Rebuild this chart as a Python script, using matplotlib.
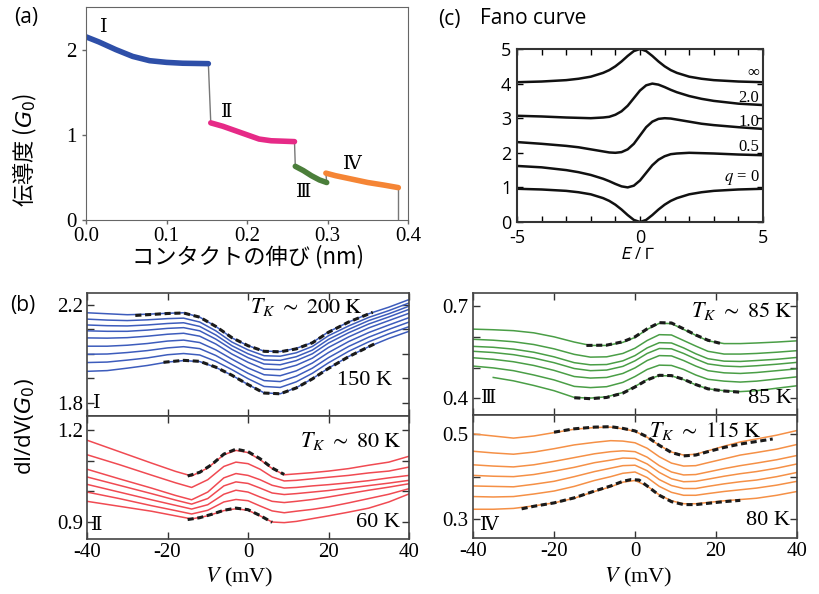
import numpy as np
import matplotlib
matplotlib.use('Agg')
import matplotlib.pyplot as plt

plt.rcParams['font.family'] = ['Liberation Serif', 'DejaVu Serif']
plt.rcParams['axes.unicode_minus'] = False
plt.rcParams['mathtext.fontset'] = 'stix'

# ---------- (a) コンダクタンストレース ----------
seg1_x = [0.0, 0.016, 0.037, 0.058, 0.079, 0.100, 0.120, 0.152]
seg1_y = [2.15, 2.09, 2.00, 1.92, 1.87, 1.85, 1.84, 1.835]
seg2_x = [0.155, 0.170, 0.185, 0.200, 0.215, 0.230, 0.245, 0.259]
seg2_y = [1.14, 1.10, 1.05, 1.00, 0.95, 0.93, 0.925, 0.92]
seg3_x = [0.260, 0.270, 0.280, 0.290, 0.299]
seg3_y = [0.63, 0.58, 0.52, 0.47, 0.44]
seg4_x = [0.298, 0.310, 0.330, 0.350, 0.370, 0.388]
seg4_y = [0.55, 0.52, 0.48, 0.44, 0.41, 0.38]
seg_colors = ['#2e4fa8', '#e62a87', '#4b7e3a', '#f58535']
seg_names = ['Ⅰ', 'Ⅱ', 'Ⅲ', 'Ⅳ']

# ---------- (c) Fano curve ----------
fano_e = [-5, -4, -3, -2.5, -2, -1.5, -1.25, -1, -0.75, -0.5, -0.25, 0,
          0.25, 0.5, 0.75, 1, 1.25, 1.5, 2, 2.5, 3, 4, 5]
fano_q0 = [0.96, 0.94, 0.90, 0.86, 0.80, 0.69, 0.61, 0.50, 0.36, 0.20, 0.06, 0.00,
           0.06, 0.20, 0.36, 0.50, 0.61, 0.69, 0.80, 0.86, 0.90, 0.94, 0.96]
fano_q05 = [1.62, 1.58, 1.50, 1.44, 1.36, 1.25, 1.18, 1.10, 1.03, 1.00, 1.05, 1.20,
            1.42, 1.64, 1.80, 1.90, 1.96, 1.98, 2.00, 1.99, 1.98, 1.95, 1.93]
fano_q1 = [2.31, 2.26, 2.20, 2.16, 2.10, 2.04, 2.01, 2.00, 2.02, 2.10, 2.26, 2.50,
           2.74, 2.90, 2.98, 3.00, 2.99, 2.96, 2.90, 2.84, 2.80, 2.74, 2.69]
fano_q2 = [3.07, 3.05, 3.02, 3.01, 3.00, 3.02, 3.04, 3.10, 3.20, 3.36, 3.58, 3.80,
           3.95, 4.00, 3.97, 3.90, 3.82, 3.75, 3.64, 3.56, 3.50, 3.42, 3.38]
fano_qinf = [4.04, 4.06, 4.10, 4.14, 4.20, 4.31, 4.39, 4.50, 4.64, 4.80, 4.94, 5.00,
             4.94, 4.80, 4.64, 4.50, 4.39, 4.31, 4.20, 4.14, 4.10, 4.06, 4.04]
fano_labels = ['$q$ = 0', '0.5', '1.0', '2.0', '∞']
fano_label_y = [1.29, 2.16, 2.90, 3.58, 4.32]

# ---------- (b) I ----------
v_I = [-40, -35, -30, -25, -20, -16, -12, -8, -4, 0, 4, 8, 12, 16, 20, 25, 30, 35, 40]
blue_curves = [
    [2.168, 2.164, 2.160, 2.162, 2.166, 2.168, 2.150, 2.112, 2.065, 2.033, 2.011, 2.009, 2.022, 2.046, 2.090, 2.130, 2.164, 2.191, 2.222],
    [2.142, 2.138, 2.136, 2.139, 2.144, 2.146, 2.130, 2.094, 2.048, 2.016, 1.992, 1.990, 2.004, 2.030, 2.074, 2.114, 2.149, 2.177, 2.208],
    [2.118, 2.115, 2.114, 2.118, 2.124, 2.127, 2.112, 2.077, 2.033, 2.000, 1.975, 1.973, 1.988, 2.015, 2.059, 2.100, 2.136, 2.164, 2.195],
    [2.094, 2.092, 2.092, 2.097, 2.104, 2.107, 2.094, 2.060, 2.018, 1.984, 1.958, 1.955, 1.972, 2.000, 2.044, 2.086, 2.122, 2.151, 2.182],
    [2.065, 2.064, 2.066, 2.072, 2.080, 2.084, 2.072, 2.040, 1.999, 1.965, 1.937, 1.935, 1.953, 1.982, 2.026, 2.069, 2.106, 2.136, 2.166],
    [2.031, 2.031, 2.035, 2.042, 2.052, 2.056, 2.046, 2.016, 1.978, 1.942, 1.914, 1.910, 1.930, 1.962, 2.005, 2.050, 2.087, 2.118, 2.148],
    [1.998, 1.999, 2.005, 2.013, 2.024, 2.029, 2.021, 1.993, 1.956, 1.920, 1.890, 1.886, 1.908, 1.941, 1.984, 2.030, 2.068, 2.100, 2.130],
    [1.964, 1.966, 1.974, 1.983, 1.996, 2.001, 1.995, 1.969, 1.935, 1.898, 1.866, 1.862, 1.885, 1.920, 1.963, 2.010, 2.049, 2.082, 2.111],
    [1.928, 1.931, 1.941, 1.952, 1.966, 1.972, 1.968, 1.944, 1.912, 1.874, 1.840, 1.836, 1.861, 1.898, 1.941, 1.989, 2.029, 2.063, 2.092],
]
fitI_top_v = [-28, -25, -20, -16, -12, -8, -4, 0, 4, 8, 12, 16, 20, 25, 31]
fitI_top = [2.157, 2.160, 2.165, 2.167, 2.150, 2.112, 2.066, 2.033, 2.010, 2.008, 2.020, 2.045, 2.088, 2.130, 2.170]
fitI_bot_v = [-21, -16, -12, -8, -4, 0, 4, 8, 12, 16, 20, 25, 30, 32]
fitI_bot = [1.965, 1.973, 1.969, 1.945, 1.912, 1.874, 1.839, 1.836, 1.860, 1.897, 1.940, 1.988, 2.029, 2.045]

# ---------- (b) II ----------
v_II = [-40, -32, -24, -18, -14, -10, -6, -3, 0, 3, 6, 9, 12, 16, 20, 25, 30, 35, 40]
red_curves = [
    [1.166, 1.129, 1.092, 1.065, 1.050, 1.076, 1.119, 1.133, 1.126, 1.103, 1.074, 1.054, 1.057, 1.061, 1.066, 1.074, 1.085, 1.095, 1.114],
    [1.119, 1.087, 1.053, 1.028, 1.013, 1.038, 1.081, 1.095, 1.090, 1.072, 1.047, 1.034, 1.036, 1.041, 1.046, 1.052, 1.060, 1.066, 1.079],
    [1.072, 1.041, 1.011, 0.987, 0.973, 0.998, 1.044, 1.058, 1.052, 1.038, 1.020, 1.011, 1.013, 1.018, 1.022, 1.028, 1.035, 1.044, 1.052],
    [1.047, 1.020, 0.993, 0.972, 0.959, 0.977, 1.018, 1.031, 1.026, 1.011, 0.995, 0.990, 0.993, 0.998, 1.003, 1.011, 1.019, 1.027, 1.036],
    [1.023, 0.998, 0.973, 0.955, 0.943, 0.957, 0.991, 1.004, 0.998, 0.982, 0.968, 0.964, 0.968, 0.974, 0.982, 0.993, 1.004, 1.014, 1.025],
    [0.998, 0.977, 0.954, 0.938, 0.927, 0.939, 0.966, 0.974, 0.970, 0.953, 0.937, 0.931, 0.936, 0.942, 0.950, 0.963, 0.977, 0.991, 1.009],
    [0.968, 0.952, 0.936, 0.921, 0.911, 0.921, 0.938, 0.944, 0.939, 0.921, 0.901, 0.899, 0.903, 0.912, 0.921, 0.933, 0.946, 0.966, 0.992],
]
fitII_top_v = [-15, -12, -9, -6, -3, 0, 3, 6, 9]
fitII_top = [1.050, 1.062, 1.087, 1.121, 1.137, 1.129, 1.106, 1.076, 1.055]
fitII_bot_v = [-15, -12, -9, -6, -3, 0, 3, 6]
fitII_bot = [0.909, 0.915, 0.926, 0.939, 0.946, 0.941, 0.922, 0.900]

# ---------- (b) III ----------
v_III = [-40, -35, -30, -25, -20, -15, -11, -7, -3, 0, 3, 6, 9, 12, 15, 18, 22, 26, 30, 35, 40]
green_curves = [
    [0.625, 0.623, 0.620, 0.613, 0.600, 0.583, 0.572, 0.572, 0.582, 0.598, 0.624, 0.644, 0.643, 0.624, 0.605, 0.587, 0.578, 0.578, 0.580, 0.583, 0.587],
    [0.592, 0.589, 0.584, 0.575, 0.561, 0.543, 0.534, 0.535, 0.546, 0.563, 0.588, 0.607, 0.606, 0.588, 0.570, 0.553, 0.544, 0.544, 0.546, 0.550, 0.555],
    [0.569, 0.566, 0.560, 0.550, 0.535, 0.516, 0.509, 0.510, 0.522, 0.539, 0.564, 0.581, 0.580, 0.564, 0.545, 0.529, 0.521, 0.520, 0.523, 0.527, 0.533],
    [0.553, 0.549, 0.542, 0.531, 0.516, 0.497, 0.490, 0.492, 0.504, 0.522, 0.546, 0.562, 0.561, 0.546, 0.528, 0.512, 0.505, 0.503, 0.506, 0.511, 0.517],
    [0.532, 0.527, 0.519, 0.507, 0.491, 0.471, 0.466, 0.468, 0.481, 0.499, 0.523, 0.539, 0.538, 0.523, 0.505, 0.490, 0.483, 0.481, 0.484, 0.490, 0.496],
    [0.505, 0.499, 0.490, 0.476, 0.460, 0.439, 0.435, 0.438, 0.452, 0.471, 0.494, 0.508, 0.507, 0.494, 0.476, 0.462, 0.456, 0.453, 0.456, 0.463, 0.470],
    [np.nan, 0.468, 0.457, 0.442, 0.425, 0.403, 0.401, 0.405, 0.419, 0.439, 0.461, 0.474, 0.473, 0.461, 0.444, 0.431, 0.425, 0.422, 0.425, 0.433, 0.441],
]
fitIII_top_v = [-12, -7, -3, 0, 3, 6, 9, 12, 15, 18, 21]
fitIII_top = [0.572, 0.573, 0.584, 0.600, 0.626, 0.646, 0.645, 0.626, 0.606, 0.589, 0.579]
fitIII_bot_v = [-15, -11, -7, -3, 0, 3, 6, 9, 12, 15, 18, 22, 26]
fitIII_bot = [0.402, 0.399, 0.403, 0.417, 0.437, 0.460, 0.475, 0.474, 0.462, 0.445, 0.431, 0.424, 0.420]

# ---------- (b) IV ----------
v_IV = [-40, -35, -30, -25, -20, -15, -10, -6, -3, 0, 3, 6, 9, 12, 15, 18, 22, 26, 30, 35, 40]
orange_curves = [
    [0.501, 0.496, 0.491, 0.496, 0.504, 0.512, 0.516, 0.517, 0.513, 0.507, 0.493, 0.474, 0.458, 0.451, 0.453, 0.461, 0.472, 0.482, 0.489, 0.498, 0.509],
    [0.460, 0.456, 0.453, 0.458, 0.466, 0.475, 0.481, 0.485, 0.484, 0.480, 0.467, 0.447, 0.432, 0.425, 0.426, 0.433, 0.442, 0.451, 0.457, 0.465, 0.476],
    [0.428, 0.425, 0.423, 0.428, 0.436, 0.445, 0.454, 0.459, 0.461, 0.459, 0.446, 0.426, 0.411, 0.404, 0.405, 0.411, 0.419, 0.426, 0.432, 0.440, 0.450],
    [0.403, 0.401, 0.400, 0.405, 0.413, 0.422, 0.433, 0.439, 0.444, 0.443, 0.430, 0.410, 0.395, 0.388, 0.389, 0.394, 0.401, 0.407, 0.412, 0.420, 0.430],
    [0.378, 0.377, 0.376, 0.382, 0.389, 0.400, 0.412, 0.420, 0.426, 0.427, 0.414, 0.393, 0.379, 0.372, 0.372, 0.377, 0.383, 0.388, 0.392, 0.400, 0.410],
    [0.353, 0.352, 0.353, 0.359, 0.366, 0.377, 0.391, 0.400, 0.408, 0.411, 0.398, 0.377, 0.363, 0.356, 0.356, 0.360, 0.365, 0.369, 0.373, 0.380, 0.389],
    [0.323, 0.323, 0.325, 0.331, 0.338, 0.349, 0.365, 0.376, 0.387, 0.391, 0.378, 0.357, 0.343, 0.336, 0.336, 0.339, 0.343, 0.346, 0.349, 0.356, 0.365],
]
fitIV_top_v = [-20, -15, -10, -6, -3, 0, 3, 6, 9, 12, 15, 18, 22, 26, 30, 34]
fitIV_top = [0.505, 0.513, 0.517, 0.518, 0.514, 0.508, 0.494, 0.474, 0.457, 0.449, 0.451, 0.459, 0.469, 0.477, 0.483, 0.489]
fitIV_bot_v = [-28, -25, -20, -15, -10, -6, -3, -1, 1, 3, 6, 9, 12, 15, 18, 22, 26]
fitIV_bot = [0.324, 0.330, 0.338, 0.350, 0.366, 0.378, 0.389, 0.393, 0.392, 0.378, 0.356, 0.341, 0.334, 0.334, 0.337, 0.341, 0.344]


W, H = 819.0, 594.0
fig = plt.figure(figsize=(W / 100, H / 100), dpi=100)


def px_axes(left, top, right, bottom):
    """оси по пиксельным координатам картинки"""
    return fig.add_axes([left / W, 1 - bottom / H, (right - left) / W, (bottom - top) / H])


def fig_text(x, y, s, **kw):
    return fig.text(x / W, 1 - y / H, s, **kw)


def label_font(ax, family):
    for lab in ax.get_xticklabels() + ax.get_yticklabels():
        lab.set_family(family)


# ---------------- panel (a) ----------------
ax_a = px_axes(86, 7, 408, 220)
xs = [seg1_x, seg2_x, seg3_x, seg4_x]
ys = [seg1_y, seg2_y, seg3_y, seg4_y]
for i in range(3):
    ax_a.plot([xs[i][-1], xs[i + 1][0]], [ys[i][-1], ys[i + 1][0]], color='#777777', lw=1)
ax_a.plot([seg4_x[-1], seg4_x[-1]], [seg4_y[-1], 0], color='#777777', lw=1)
for x, y, c in zip(xs, ys, seg_colors):
    ax_a.plot(x, y, color=c, lw=4, solid_capstyle='round')
ax_a.set_xlim(0, 0.4)
ax_a.set_ylim(0, 2.5)
ax_a.set_xticks([0, 0.1, 0.2, 0.3, 0.4])
ax_a.set_xticklabels(['0.0', '0.1', '0.2', '0.3', '0.4'])
ax_a.set_yticks([0, 1, 2])
ax_a.tick_params(direction='out', length=3, width=1, color='#666666', labelsize=15, pad=2)
ax_a.tick_params(axis='y', pad=4)
label_font(ax_a, 'Liberation Serif')
for sp in ax_a.spines.values():
    sp.set_color('#666666')
label_pos = [(0.017, 2.27), (0.168, 1.27), (0.261, 0.33), (0.319, 0.66)]
for (x, y), s in zip(label_pos, seg_names):
    ax_a.text(x, y, s, fontsize=14, family=['DejaVu Serif', 'Noto Sans CJK JP'], va='center', ha='left')

fig_text(248, 257, 'コンタクトの伸び (nm)', family='Noto Sans CJK JP', fontsize=16, ha='center', va='center')
fig_text(25, 150, '伝導度 ($G_0$)', family='Noto Sans CJK JP', fontsize=16, rotation=90,
         ha='center', va='center', math_fontfamily='dejavusans')
fig_text(26, 17, '(a)', family='Open Sans', fontsize=15, ha='center', va='center')

# ---------------- panel (c) ----------------
ax_c = px_axes(517, 49, 763, 222)
for f in [fano_q0, fano_q05, fano_q1, fano_q2, fano_qinf]:
    ax_c.plot(fano_e, f, color='#111111', lw=1.8)
ax_c.set_xlim(-5, 5)
ax_c.set_ylim(0, 5)
ax_c.set_xticks([-5, 0, 5])
ax_c.set_xticks(range(-4, 5), minor=True)
ax_c.set_yticks(range(0, 6))
ax_c.tick_params(which='both', direction='in', top=True, right=True, length=4, width=1,
                 labelsize=13, pad=4)
ax_c.tick_params(axis='x', pad=5)
label_font(ax_c, 'Open Sans')
for sp in ax_c.spines.values():
    sp.set_linewidth(1.5)
    sp.set_color('#333333')
for s, y in zip(fano_labels, fano_label_y):
    ax_c.text(4.85, y, s, fontsize=12, ha='right', va='center', family='Liberation Serif',
              math_fontfamily='stix')
fig_text(638, 255, '$E$ / $\\mathit{\\Gamma}$', family='Open Sans', fontsize=12, ha='center', va='center',
         math_fontfamily='stixsans')
fig_text(449, 19, '(c)', family='Open Sans', fontsize=15, ha='center', va='center')
fig_text(533, 19, 'Fano curve', family='Open Sans', fontsize=15, ha='center', va='center')


# ---------------- panel (b) ----------------
def setup_b(ax, ylim, yticks, ylabels, show_x):
    ax.set_xlim(-40, 40)
    ax.set_ylim(*ylim)
    ax.set_xticks([-40, -20, 0, 20, 40])
    ax.set_yticks(yticks)
    ax.set_yticklabels(ylabels)
    ax.tick_params(direction='in', top=True, right=True, length=5, width=1, labelsize=15,
                   pad=3, labelbottom=show_x, color='#333333')
    label_font(ax, 'Liberation Serif')
    for sp in ax.spines.values():
        sp.set_linewidth(1.2)
        sp.set_color('#444444')


def draw_set(ax, v, curves, color, fits):
    for c in curves:
        ax.plot(v, c, color=color, lw=1.1)
    for fv, fy in fits:
        ax.plot(fv, fy, color='#1a1a1a', lw=2.2, linestyle=(0, (2.0, 1.2)))


def tk_text(ax, x, y, s):
    ax.text(x, y, s, transform=ax.transAxes, ha='right', va='baseline', fontsize=16,
            family='Liberation Serif', math_fontfamily='stix')


ax1 = px_axes(87, 293, 409, 415.5)
draw_set(ax1, v_I, blue_curves, '#3d5cbc', [(fitI_top_v, fitI_top), (fitI_bot_v, fitI_bot)])
setup_b(ax1, (1.747, 2.249), [1.8, 1.9, 2.0, 2.1, 2.2], ['1.8', '', '', '', '2.2'], False)
tk_text(ax1, 0.857, 0.834, '$T_K\\ \\sim\\ 200\\ \\mathrm{K}$')
tk_text(ax1, 0.947, 0.249, '150 K')

ax2 = px_axes(87, 415.5, 409, 539)
draw_set(ax2, v_II, red_curves, '#f04a52', [(fitII_top_v, fitII_top), (fitII_bot_v, fitII_bot)])
setup_b(ax2, (0.846, 1.246), [0.9, 1.0, 1.1, 1.2], ['0.9', '', '', '1.2'], True)
tk_text(ax2, 0.978, 0.747, '$T_K\\ \\sim\\ 80\\ \\mathrm{K}$')
tk_text(ax2, 0.972, 0.100, '60 K')

ax3 = px_axes(473, 292.5, 797, 415)
draw_set(ax3, v_III, green_curves, '#4a9e46', [(fitIII_top_v, fitIII_top), (fitIII_bot_v, fitIII_bot)])
setup_b(ax3, (0.346, 0.744), [0.4, 0.5, 0.6, 0.7], ['0.4', '', '', '0.7'], False)
tk_text(ax3, 0.988, 0.800, '$T_K\\ \\sim\\ 85\\ \\mathrm{K}$')
tk_text(ax3, 0.985, 0.095, '85 K')

ax4 = px_axes(473, 415, 797, 537.5)
draw_set(ax4, v_IV, orange_curves, '#f59046', [(fitIV_top_v, fitIV_top), (fitIV_bot_v, fitIV_bot)])
setup_b(ax4, (0.2563, 0.5456), [0.3, 0.4, 0.5], ['0.3', '', '0.5'], True)
tk_text(ax4, 0.892, 0.823, '$T_K\\ \\sim\\ 115\\ \\mathrm{K}$')
tk_text(ax4, 0.978, 0.100, '80 K')

roman_pos = [(ax1, 0.019, 0.10), (ax2, 0.012, 0.11), (ax3, 0.025, 0.14), (ax4, 0.022, 0.10)]
for (ax, x, y), s in zip(roman_pos, seg_names):
    ax.text(x, y, s, transform=ax.transAxes, fontsize=14, ha='left', va='center',
            family=['DejaVu Serif', 'Noto Sans CJK JP'])

fig_text(239, 577, '$V$ (mV)', family='Liberation Serif', fontsize=16, ha='center', va='center',
         math_fontfamily='stix')
fig_text(638, 577, '$V$ (mV)', family='Liberation Serif', fontsize=16, ha='center', va='center',
         math_fontfamily='stix')
fig_text(25, 427, 'dI/dV($G_0$)', family='Open Sans', fontsize=16, rotation=90, ha='center',
         va='center', math_fontfamily='dejavusans')
fig_text(23, 305, '(b)', family='Open Sans', fontsize=15, ha='center', va='center')

fig.savefig('out.png', dpi=100)
